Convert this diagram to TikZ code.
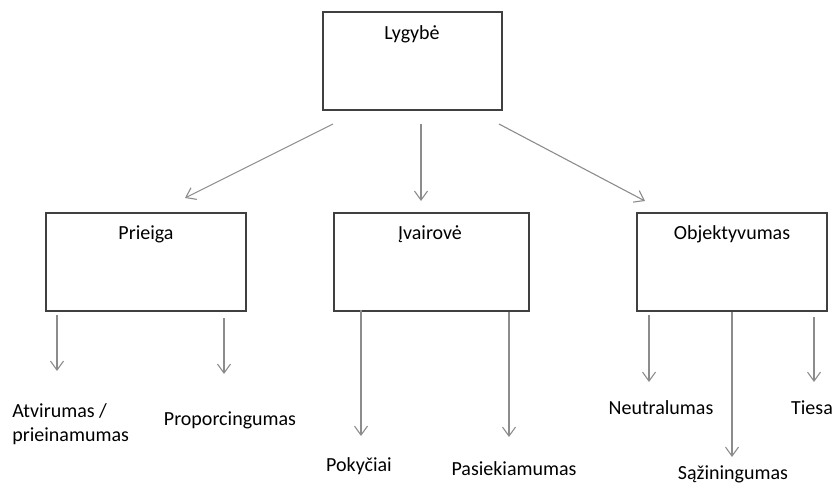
\documentclass[tikz,border=0pt]{standalone}
\usepackage{fontspec}
\setmainfont{Carlito}
\usetikzlibrary{arrows.meta}

\tikzset{
  box/.style={draw=black!75, line width=1pt, minimum width=#1, minimum height=49pt, inner sep=0pt},
  txt/.style={font=\fontsize{10}{12}\selectfont, inner sep=0pt},
  arr/.style={draw=black!45, line width=0.55pt, -{Straight Barb[length=4.5pt,width=6.5pt]}}
}

\begin{document}
\begin{tikzpicture}[x=0.5pt,y=-0.5pt]
\useasboundingbox (0,0) rectangle (836,483);
% boxes
\node[box=89.5pt] (lyg) at (412.5,61) {};
\node[box=100pt] (pri) at (146,262) {};
\node[box=97.5pt] (iva) at (431.5,262) {};
\node[box=95pt] (obj) at (732,262) {};
\node[txt] (lygT) at (412,34) {Lygybė};
\node[txt] (priT) at (146,234) {Prieiga};
\node[txt] (ivaT) at (430,234) {Įvairovė};
\node[txt] (objT) at (732,234) {Objektyvumas};
% leaves
\node[txt, align=left, anchor=west] (atv) at (12,424) {Atvirumas /\\prieinamumas};
\node[txt] (pro) at (230,420) {Proporcingumas};
\node[txt] (pok) at (359,466) {Pokyčiai};
\node[txt] (pas) at (514,469) {Pasiekiamumas};
\node[txt] (neu) at (661,408) {Neutralumas};
\node[txt] (saz) at (733,474) {Sąžiningumas};
\node[txt] (tie) at (812,408) {Tiesa};
% arrow ends
\coordinate (l1) at (333,124);
\coordinate (l2) at (185,198);
\coordinate (m1) at (421,124);
\coordinate (m2) at (421,201);
\coordinate (r1) at (499,124);
\coordinate (r2) at (645,201);
\coordinate (p1) at (57,315);
\coordinate (p2) at (57,371);
\coordinate (p3) at (224,318);
\coordinate (p4) at (224,374);
\coordinate (i1) at (361,310);
\coordinate (i2) at (361,436);
\coordinate (i3) at (509,312);
\coordinate (i4) at (509,437);
\coordinate (o1) at (649,315);
\coordinate (o2) at (649,382);
\coordinate (o3) at (732,312);
\coordinate (o4) at (732,457);
\coordinate (o5) at (814,317);
\coordinate (o6) at (814,382);
\draw[arr] (l1) -- (l2);
\draw[arr] (m1) -- (m2);
\draw[arr] (r1) -- (r2);
\draw[arr] (p1) -- (p2);
\draw[arr] (p3) -- (p4);
\draw[arr] (i1) -- (i2);
\draw[arr] (i3) -- (i4);
\draw[arr] (o1) -- (o2);
\draw[arr] (o3) -- (o4);
\draw[arr] (o5) -- (o6);
\end{tikzpicture}
\end{document}
